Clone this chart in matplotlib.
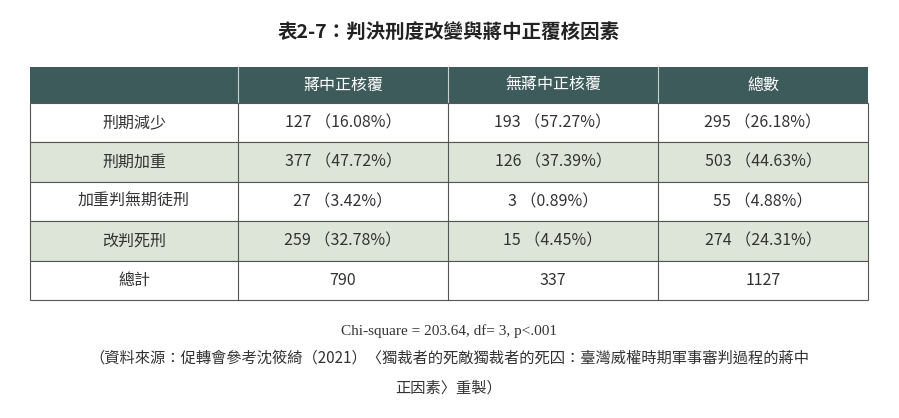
import matplotlib.pyplot as plt
from matplotlib.patches import Rectangle

plt.rcParams['font.family'] = ['Noto Sans CJK TC', 'DejaVu Sans']

title = "表2-7：判決刑度改變與蔣中正覆核因素"
col_headers = ["", "蔣中正核覆", "無蔣中正核覆", "總數"]
row_labels = ["刑期減少", "刑期加重", "加重判無期徒刑", "改判死刑", "總計"]
with_chiang = ["127 （16.08%）", "377 （47.72%）", "27 （3.42%）", "259 （32.78%）", "790"]
without_chiang = ["193 （57.27%）", "126 （37.39%）", "3 （0.89%）", "15 （4.45%）", "337"]
total = ["295 （26.18%）", "503 （44.63%）", "55 （4.88%）", "274 （24.31%）", "1127"]
stat_line = "Chi-square = 203.64, df= 3, p<.001"
source_1 = "（資料來源：促轉會參考沈筱綺（2021）〈獨裁者的死敵獨裁者的死囚：臺灣威權時期軍事審判過程的蔣中"
source_2 = "正因素〉重製）"

col_x = [30, 238, 448, 658, 868]
head_top, head_bot = 67, 103
row_h = 39.4

fig = plt.figure(figsize=(8.99, 4.18), dpi=100)
ax = fig.add_axes([0, 0, 1, 1])
ax.set_xlim(0, 899)
ax.set_ylim(418, 0)
ax.axis('off')

ax.text(449, 33, title, ha='center', va='center', fontsize=14, fontweight='bold', color='#222222')

# header
ax.add_patch(Rectangle((col_x[0], head_top), col_x[-1] - col_x[0], head_bot - head_top,
                       facecolor='#3e5b5b', edgecolor='none'))
for j, h in enumerate(col_headers):
    cx = (col_x[j] + col_x[j + 1]) / 2
    ax.text(cx, (head_top + head_bot) / 2, h, ha='center', va='center', fontsize=11.5, color='white')
for x in col_x[1:-1]:
    ax.plot([x, x], [head_top, head_bot], color='#c8d0cc', lw=0.8)

rows = list(zip(row_labels, with_chiang, without_chiang, total))
for i, row in enumerate(rows):
    y0 = head_bot + i * row_h
    fc = '#dde5d8' if i % 2 == 1 else 'white'
    ax.add_patch(Rectangle((col_x[0], y0), col_x[-1] - col_x[0], row_h,
                           facecolor=fc, edgecolor='#555555', lw=0.8))
    for j, val in enumerate(row):
        cx = (col_x[j] + col_x[j + 1]) / 2
        ax.text(cx, y0 + row_h / 2, val, ha='center', va='center', fontsize=11.5, color='#333333')
    for x in col_x[1:-1]:
        ax.plot([x, x], [y0, y0 + row_h], color='#555555', lw=0.8)

ax.text(449, 331, stat_line, ha='center', va='center', fontsize=11, color='#333333',
        family=['Liberation Serif', 'DejaVu Serif'])
ax.text(449, 358, source_1, ha='center', va='center', fontsize=11, color='#333333')
ax.text(449, 388, source_2, ha='center', va='center', fontsize=11, color='#333333')

fig.savefig('out.png', dpi=100)
